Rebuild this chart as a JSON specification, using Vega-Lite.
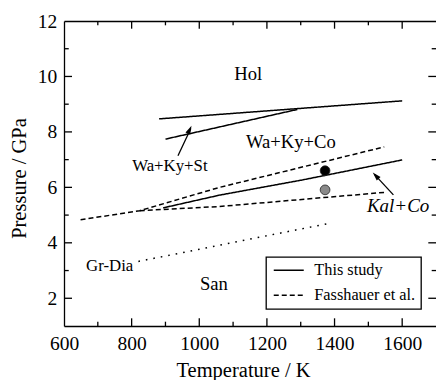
{
  "$schema": "https://vega.github.io/schema/vega-lite/v6.json",
  "width": 372,
  "height": 305,
  "autosize": {"type": "none"},
  "padding": {"left": 64, "top": 21, "right": 0, "bottom": 54},
  "background": "white",
  "config": {
    "view": {"stroke": null},
    "font": "Liberation Serif"
  },
  "datasets": {
    "lines": [
      {"line": "A", "source": "This study", "T": 881, "P": 8.47},
      {"line": "A", "source": "This study", "T": 1600, "P": 9.12},
      {"line": "B", "source": "This study", "T": 900, "P": 7.74},
      {"line": "B", "source": "This study", "T": 1290, "P": 8.81},
      {"line": "C", "source": "This study", "T": 893, "P": 5.26},
      {"line": "C", "source": "This study", "T": 1060, "P": 5.72},
      {"line": "C", "source": "This study", "T": 1306, "P": 6.27},
      {"line": "C", "source": "This study", "T": 1600, "P": 6.99},
      {"line": "D", "source": "Fasshauer et al.", "T": 649, "P": 4.83},
      {"line": "D", "source": "Fasshauer et al.", "T": 824, "P": 5.16},
      {"line": "D", "source": "Fasshauer et al.", "T": 1060, "P": 6.0},
      {"line": "D", "source": "Fasshauer et al.", "T": 1547, "P": 7.46},
      {"line": "E", "source": "Fasshauer et al.", "T": 824, "P": 5.16},
      {"line": "E", "source": "Fasshauer et al.", "T": 1060, "P": 5.31},
      {"line": "E", "source": "Fasshauer et al.", "T": 1548, "P": 5.82},
      {"line": "F", "source": "Gr-Dia", "T": 820, "P": 3.33},
      {"line": "F", "source": "Gr-Dia", "T": 1383, "P": 4.7}
    ],
    "points": [
      {"kind": "black", "T": 1372, "P": 6.6},
      {"kind": "grey", "T": 1372, "P": 5.91}
    ],
    "arrows": [
      {"arrow": "1", "T": 937, "P": 7.14},
      {"arrow": "1", "T": 975, "P": 8.12},
      {"arrow": "2", "T": 1574, "P": 5.73},
      {"arrow": "2", "T": 1518, "P": 6.47}
    ],
    "heads": [
      {"arrow": "1", "T": 977, "P": 8.22},
      {"arrow": "2", "T": 1513, "P": 6.54}
    ],
    "labels": [
      {"label": "Hol", "T": 1145, "P": 10.1},
      {"label": "Wa+Ky+Co", "T": 1271, "P": 7.62},
      {"label": "Wa+Ky+St", "T": 913, "P": 6.76},
      {"label": "Gr-Dia", "T": 735, "P": 3.18},
      {"label": "San", "T": 1043, "P": 2.53},
      {"label": "Kal+Co", "T": 1588, "P": 5.31}
    ],
    "xticks": [
      {"T": 700}, {"T": 800}, {"T": 900}, {"T": 1000}, {"T": 1100}, {"T": 1200},
      {"T": 1300}, {"T": 1400}, {"T": 1500}, {"T": 1600}
    ],
    "yticks": [
      {"P": 2}, {"P": 3}, {"P": 4}, {"P": 5}, {"P": 6}, {"P": 7},
      {"P": 8}, {"P": 9}, {"P": 10}, {"P": 11}
    ]
  },
  "layer": [
    {
      "data": {"name": "lines"},
      "mark": {"type": "line", "strokeWidth": 1.5, "color": "black"},
      "encoding": {
        "x": {
          "field": "T", "type": "quantitative",
          "scale": {"domain": [600, 1700], "nice": false, "zero": false},
          "axis": {
            "orient": "bottom",
            "values": [600, 800, 1000, 1200, 1400, 1600],
            "format": "d",
            "grid": false,
            "ticks": false,
            "tickSize": 0,
            "domainColor": "black",
            "domainWidth": 1.3,
            "labelFont": "Liberation Serif",
            "labelFontSize": 19.5,
            "labelColor": "black",
            "labelFlush": false,
            "labelOverlap": false,
            "labelPadding": 17.7,
            "labelBaseline": "middle",
            "title": "Temperature / K",
            "titleFont": "Liberation Serif",
            "titleFontSize": 20.5,
            "titleFontWeight": "normal",
            "titleColor": "black",
            "titleX": 179,
            "titleY": 44,
            "titleBaseline": "middle",
            "titleAlign": "center"
          }
        },
        "y": {
          "field": "P", "type": "quantitative",
          "scale": {"domain": [1, 12], "nice": false, "zero": false},
          "axis": {
            "orient": "left",
            "values": [2, 4, 6, 8, 10, 12],
            "format": "d",
            "grid": false,
            "ticks": false,
            "tickSize": 0,
            "domainColor": "black",
            "domainWidth": 1.3,
            "labelFont": "Liberation Serif",
            "labelFontSize": 19.5,
            "labelColor": "black",
            "labelFlush": false,
            "labelOverlap": false,
            "labelPadding": 7.3,
            "labelBaseline": "middle",
            "title": "Pressure / GPa",
            "titleFont": "Liberation Serif",
            "titleFontSize": 20.5,
            "titleFontWeight": "normal",
            "titleColor": "black",
            "titleX": -45,
            "titleY": 157,
            "titleAngle": -90,
            "titleBaseline": "middle",
            "titleAlign": "center"
          }
        },
        "detail": {"field": "line"},
        "strokeDash": {
          "field": "source", "type": "nominal",
          "scale": {"domain": ["This study", "Fasshauer et al.", "Gr-Dia"], "range": [[1, 0], [5, 3], [1.6, 6]]},
          "legend": {
            "values": ["This study", "Fasshauer et al."],
            "orient": "none",
            "legendX": 202,
            "legendY": 236,
            "title": null,
            "symbolType": "M-0.9,0H4.1",
            "symbolSize": 144,
            "symbolStrokeWidth": 1.5,
            "symbolStrokeColor": "black",
            "labelFont": "Liberation Serif",
            "labelFontSize": 16.3,
            "labelColor": "black",
            "labelOffset": 27,
            "strokeColor": "black",
            "fillColor": "white",
            "padding": 5,
            "rowPadding": 8,
            "encode": {"legend": {"update": {"strokeWidth": {"value": 1.3}}}}
          }
        }
      }
    },
    {
      "data": {"name": "xticks"},
      "mark": {"type": "point", "shape": "M0,0V-1", "filled": false, "stroke": "black", "strokeWidth": 1.3, "opacity": 1},
      "encoding": {
        "x": {"field": "T", "type": "quantitative", "axis": null},
        "y": {"datum": 1, "type": "quantitative", "axis": null},
        "size": {"condition": {"test": "datum.T % 200 === 0", "value": 237}, "value": 74}
      }
    },
    {
      "data": {"name": "xticks"},
      "mark": {"type": "point", "shape": "M0,0V1", "filled": false, "stroke": "black", "strokeWidth": 1.3, "opacity": 1},
      "encoding": {
        "x": {"field": "T", "type": "quantitative", "axis": null},
        "y": {"datum": 12, "type": "quantitative", "axis": null},
        "size": {"condition": {"test": "datum.T % 200 === 0", "value": 237}, "value": 74}
      }
    },
    {
      "data": {"name": "yticks"},
      "mark": {"type": "point", "shape": "M0,0H1", "filled": false, "stroke": "black", "strokeWidth": 1.3, "opacity": 1},
      "encoding": {
        "x": {"datum": 600, "type": "quantitative", "axis": null},
        "y": {"field": "P", "type": "quantitative", "axis": null},
        "size": {"condition": {"test": "datum.P % 2 === 0", "value": 256}, "value": 90}
      }
    },
    {
      "data": {"name": "yticks"},
      "mark": {"type": "point", "shape": "M0,0H-1", "filled": false, "stroke": "black", "strokeWidth": 1.3, "opacity": 1},
      "encoding": {
        "x": {"datum": 1700, "type": "quantitative", "axis": null},
        "y": {"field": "P", "type": "quantitative", "axis": null},
        "size": {"condition": {"test": "datum.P % 2 === 0", "value": 237}, "value": 74}
      }
    },
    {
      "data": {"name": "points"},
      "mark": {"type": "point", "shape": "circle", "filled": true, "size": 95, "stroke": "#222222", "strokeWidth": 0.8, "opacity": 1},
      "encoding": {
        "x": {"field": "T", "type": "quantitative", "axis": null},
        "y": {"field": "P", "type": "quantitative", "axis": null},
        "fill": {
          "field": "kind", "type": "nominal",
          "scale": {"domain": ["black", "grey"], "range": ["#000000", "#8a8a8a"]},
          "legend": null
        }
      }
    },
    {
      "data": {"name": "arrows"},
      "mark": {"type": "line", "strokeWidth": 1.3, "color": "black"},
      "encoding": {
        "x": {"field": "T", "type": "quantitative", "axis": null},
        "y": {"field": "P", "type": "quantitative", "axis": null},
        "detail": {"field": "arrow"}
      }
    },
    {
      "data": {"name": "heads"},
      "transform": [{"filter": "datum.arrow === '1'"}],
      "mark": {"type": "point", "shape": "M0,0L0.3,1L-0.3,1Z", "filled": true, "color": "black", "size": 300, "angle": 25, "opacity": 1},
      "encoding": {
        "x": {"field": "T", "type": "quantitative", "axis": null},
        "y": {"field": "P", "type": "quantitative", "axis": null}
      }
    },
    {
      "data": {"name": "heads"},
      "transform": [{"filter": "datum.arrow === '2'"}],
      "mark": {"type": "point", "shape": "M0,0L0.3,1L-0.3,1Z", "filled": true, "color": "black", "size": 300, "angle": 317, "opacity": 1},
      "encoding": {
        "x": {
          "field": "T", "type": "quantitative",
          "axis": {
            "orient": "bottom", "offset": -305,
            "values": [700, 900, 1100, 1300, 1500, 1700],
            "labels": false, "title": null, "grid": false, "ticks": false,
            "domain": true, "domainColor": "black", "domainWidth": 1.3
          }
        },
        "y": {"field": "P", "type": "quantitative", "axis": null}
      }
    },
    {
      "data": {"name": "labels"},
      "transform": [{"filter": "datum.label !== 'Kal+Co'"}],
      "mark": {"type": "text", "font": "Liberation Serif", "color": "black", "baseline": "middle", "align": "center"},
      "encoding": {
        "x": {"field": "T", "type": "quantitative", "axis": null},
        "y": {"field": "P", "type": "quantitative", "axis": null},
        "text": {"field": "label"},
        "size": {"condition": {"test": "datum.label === 'Wa+Ky+St' || datum.label === 'Gr-Dia'", "value": 16.8}, "value": 18.6}
      }
    },
    {
      "data": {"name": "labels"},
      "transform": [{"filter": "datum.label === 'Kal+Co'"}],
      "mark": {"type": "text", "font": "Liberation Serif", "fontStyle": "italic", "fontSize": 19, "color": "black", "baseline": "middle", "align": "center"},
      "encoding": {
        "x": {"field": "T", "type": "quantitative", "axis": null},
        "y": {"field": "P", "type": "quantitative", "axis": null},
        "text": {"field": "label"}
      }
    }
  ],
  "resolve": {"axis": {"x": "independent", "y": "independent"}}
}
